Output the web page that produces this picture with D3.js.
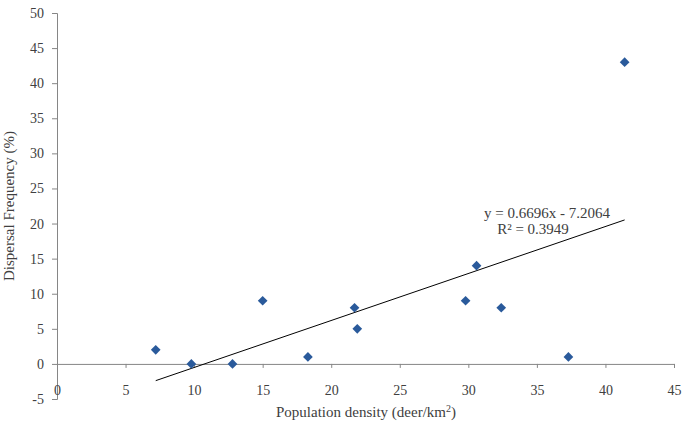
<!DOCTYPE html>
<html>
<head>
<meta charset="utf-8">
<title>Dispersal frequency vs population density</title>
<script src="https://d3js.org/d3.v7.min.js"></script>
<style>
body { margin: 0; background: #fff; }
text { font-family: "Liberation Serif", "Times New Roman", serif; fill: #404040; }
</style>
</head>
<body>
<script>

// values
var density = [7.2, 9.8, 12.8, 15.0, 18.3, 21.7, 21.9, 29.8, 30.6, 32.4, 37.3, 41.4];
var dispersal = [2, 0, 0, 9, 1, 8, 5, 9, 14, 8, 1, 43];
var xTicks = [0, 5, 10, 15, 20, 25, 30, 35, 40, 45];
var yTicks = [-5, 0, 5, 10, 15, 20, 25, 30, 35, 40, 45, 50];
var slope = 0.6696, intercept = -7.2064;
var equationLines = ["y = 0.6696x - 7.2064", "R\u00b2 = 0.3949"];

var width = 685, height = 425;

var svg = d3.select("body").append("svg")
	.attr("width", width)
	.attr("height", height);

var x = d3.scaleLinear().domain([0, 45]).range([57, 674]);
var y = d3.scaleLinear().domain([-5, 50]).range([399, 13]);

var axisColor = "#868686";
var plain = function(d){ return String(d); };

// y axis
var yAxis = svg.append("g")
	.attr("transform", "translate(" + x(0) + ",0)")
	.call(d3.axisLeft(y).tickValues(yTicks).tickSize(5).tickPadding(8).tickFormat(plain));
yAxis.select(".domain").attr("stroke", axisColor);
yAxis.selectAll(".tick line").attr("stroke", axisColor);
yAxis.selectAll(".tick text").style("font-size", "14px").attr("fill", "#404040");

// x axis sits on y = 0, labels drawn lower like the original
var xAxis = svg.append("g")
	.attr("transform", "translate(0," + y(0) + ")")
	.call(d3.axisBottom(x).tickValues(xTicks).tickSize(4).tickPadding(17).tickFormat(plain));
xAxis.select(".domain").attr("stroke", axisColor);
xAxis.selectAll(".tick line").attr("stroke", axisColor);
xAxis.selectAll(".tick text").style("font-size", "14px").attr("fill", "#404040");

// trend line across the data range
var xr = d3.extent(density);
svg.append("line")
	.attr("x1", x(xr[0])).attr("y1", y(slope * xr[0] + intercept))
	.attr("x2", x(xr[1])).attr("y2", y(slope * xr[1] + intercept))
	.attr("stroke", "#000")
	.attr("stroke-width", 1);

// points
var pts = density.map(function(d, i){ return [d, dispersal[i]]; });
svg.selectAll("path.pt")
	.data(pts)
	.enter()
	.append("path")
	.attr("class", "pt")
	.attr("d", d3.symbol().type(d3.symbolDiamond2).size(60))
	.attr("transform", function(d){
		return "translate(" + x(d[0]) + "," + y(d[1]) + ")";
	})
	.attr("fill", "#2a5a9b");

// equation label
svg.append("text")
	.attr("x", 547).attr("y", 218)
	.attr("text-anchor", "middle")
	.style("font-size", "15px")
	.text(equationLines[0]);
svg.append("text")
	.attr("x", 533).attr("y", 234)
	.attr("text-anchor", "middle")
	.style("font-size", "15px")
	.text(equationLines[1]);

// axis titles
svg.append("text")
	.attr("transform", "translate(14,206) rotate(-90)")
	.attr("text-anchor", "middle")
	.style("font-size", "15px")
	.text("Dispersal Frequency (%)");

var xt = svg.append("text")
	.attr("x", 366).attr("y", 417)
	.attr("text-anchor", "middle")
	.style("font-size", "15px");
xt.append("tspan").text("Population density (deer/km");
xt.append("tspan").attr("dy", -5).style("font-size", "10px").text("2");
xt.append("tspan").attr("dy", 5).text(")");

</script>
</body>
</html>
